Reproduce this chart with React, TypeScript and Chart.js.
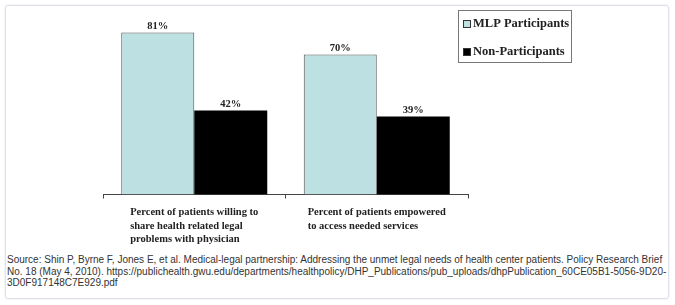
import React, { useEffect, useRef } from "react";
import { Chart, registerables } from "chart.js";

Chart.register(...registerables);

const categories: string[][] = [
  ["Percent of patients willing to", "share health related legal", "problems with physician"],
  ["Percent of patients empowered", "to access needed services"],
];
const seriesNames = ["MLP Participants", "Non-Participants"];
const mlpValues = [81, 70];
const nonValues = [42, 39];
const seriesColors = ["#bde0e2", "#000000"];
const seriesBorders = ["#555555", "#000000"];
const sourceLines = [
  "Source: Shin P, Byrne F, Jones E, et al. Medical-legal partnership: Addressing the unmet legal needs of health center patients. Policy Research Brief",
  "No. 18 (May 4, 2010). https://publichealth.gwu.edu/departments/healthpolicy/DHP_Publications/pub_uploads/dhpPublication_60CE05B1-5056-9D20-",
  "3D0F917148C7E929.pdf",
];

const SERIF = '"Liberation Serif", "Times New Roman", serif';

const valueLabelPlugin = {
  id: "valueLabels",
  afterDatasetsDraw(chart: any) {
    const ctx = chart.ctx;
    ctx.save();
    ctx.font = `bold 10.5px ${SERIF}`;
    ctx.fillStyle = "#222";
    ctx.textAlign = "center";
    ctx.textBaseline = "middle";
    chart.data.datasets.forEach((ds: any, di: number) => {
      const meta = chart.getDatasetMeta(di);
      meta.data.forEach((el: any, i: number) => {
        ctx.fillText(`${ds.data[i]}%`, el.x, el.y - 6.5);
      });
    });
    ctx.restore();
  },
};

const categoryLabelPlugin = {
  id: "categoryLabels",
  afterDraw(chart: any) {
    const ctx = chart.ctx;
    const xs = chart.scales.x;
    ctx.save();
    ctx.font = `bold 10.5px ${SERIF}`;
    ctx.fillStyle = "#222";
    ctx.textAlign = "left";
    ctx.textBaseline = "middle";
    (chart.data.labels as string[][]).forEach((lines, i) => {
      const cx = xs.getPixelForValue(i);
      const maxW = Math.max(...lines.map((l) => ctx.measureText(l).width));
      const left = cx - maxW / 2;
      lines.forEach((l, k) => {
        ctx.fillText(l, left, chart.chartArea.bottom + 18 + k * 13.5);
      });
    });
    ctx.restore();
  },
};

const boxLegendPlugin = {
  id: "boxLegend",
  afterDraw(chart: any) {
    const ctx = chart.ctx;
    const x0 = chart.chartArea.right - 10;
    const y0 = 10;
    const w = 114;
    const h = 53;
    ctx.save();
    ctx.fillStyle = "#fff";
    ctx.fillRect(x0, y0, w, h);
    ctx.strokeStyle = "#777";
    ctx.lineWidth = 1;
    ctx.strokeRect(x0 + 0.5, y0 + 0.5, w - 1, h - 1);
    ctx.font = `bold 12.5px ${SERIF}`;
    ctx.textAlign = "left";
    ctx.textBaseline = "middle";
    chart.data.datasets.forEach((ds: any, i: number) => {
      const cy = y0 + 14 + i * 28;
      ctx.fillStyle = ds.backgroundColor;
      ctx.fillRect(x0 + 5, cy - 4, 8, 8);
      ctx.strokeStyle = "#333";
      ctx.strokeRect(x0 + 5.5, cy - 3.5, 7, 7);
      ctx.fillStyle = "#222";
      ctx.fillText(ds.label, x0 + 15, cy);
    });
    ctx.restore();
  },
};

function BarChart() {
  const ref = useRef<HTMLCanvasElement | null>(null);
  useEffect(() => {
    if (!ref.current) return;
    const chart = new Chart(ref.current, {
      type: "bar",
      data: {
        labels: categories as any,
        datasets: [
          {
            label: seriesNames[0],
            data: mlpValues,
            backgroundColor: seriesColors[0],
            borderColor: seriesBorders[0],
            borderWidth: 1,
            categoryPercentage: 0.8,
            barPercentage: 1,
          },
          {
            label: seriesNames[1],
            data: nonValues,
            backgroundColor: seriesColors[1],
            borderColor: seriesBorders[1],
            borderWidth: 0,
            categoryPercentage: 0.8,
            barPercentage: 1,
          },
        ],
      },
      options: {
        responsive: false,
        animation: false,
        layout: { padding: { left: 103, right: 207, top: 14.5, bottom: 0 } },
        plugins: {
          legend: { display: false },
          tooltip: { enabled: false },
        },
        scales: {
          x: {
            offset: true,
            ticks: { display: false },
            grid: {
              offset: true,
              drawOnChartArea: false,
              drawTicks: true,
              tickLength: 4,
              color: "#444",
            },
            border: { display: true, color: "#444", width: 1 },
            afterFit: (scale: any) => {
              scale.height = 55.5;
            },
          },
          y: {
            display: false,
            min: 0,
            max: 90,
          },
        },
      },
      plugins: [valueLabelPlugin, categoryLabelPlugin, boxLegendPlugin],
    });
    return () => chart.destroy();
  }, []);
  return (
    <canvas
      ref={ref}
      width={675}
      height={250}
      style={{ position: "absolute", left: 0, top: 0, width: 675, height: 250 }}
    />
  );
}

export default function App() {
  return (
    <div
      style={{
        position: "absolute",
        left: 0,
        top: 0,
        width: 675,
        height: 305,
        background: "#fff",
        overflow: "hidden",
      }}
    >
      <div
        style={{
          position: "absolute",
          left: 5,
          top: 5,
          width: 662,
          height: 292,
          border: "1px solid #dfe1ea",
          borderRadius: 3,
          boxShadow: "0 0 2px rgba(120,125,150,0.25)",
        }}
      />
      <BarChart />
      <div
        style={{
          position: "absolute",
          left: 7,
          top: 254,
          fontFamily: '"Liberation Sans", Arial, sans-serif',
          fontSize: 10,
          lineHeight: "11.5px",
          color: "#333",
          whiteSpace: "nowrap",
        }}
      >
        {sourceLines.map((l, i) => (
          <div key={i}>{l}</div>
        ))}
      </div>
    </div>
  );
}
